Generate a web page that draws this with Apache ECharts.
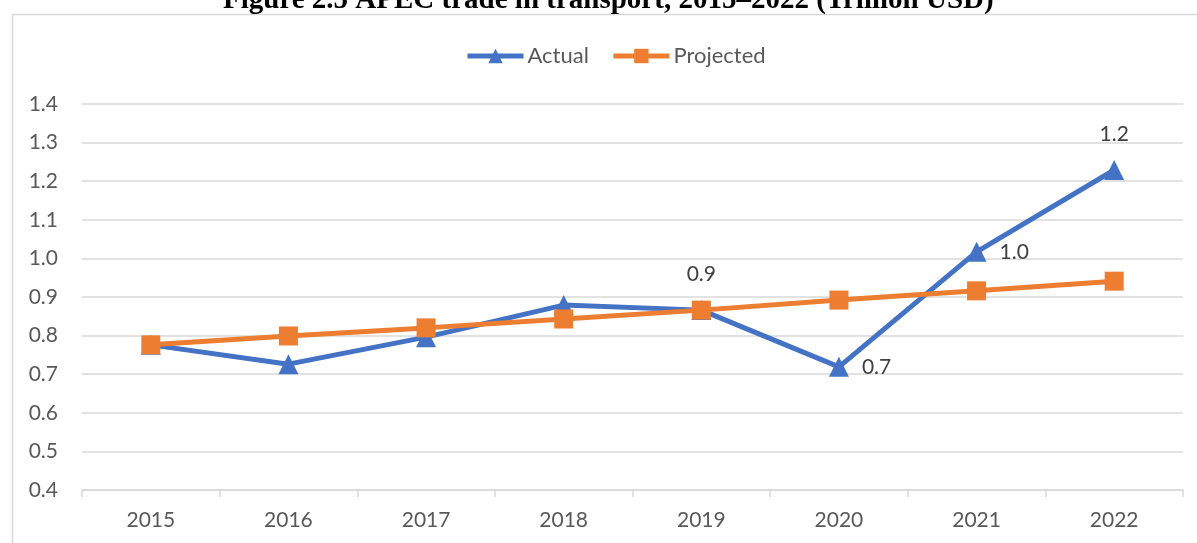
<!DOCTYPE html>
<html>
<head>
<meta charset="utf-8">
<script src="https://cdn.jsdelivr.net/npm/echarts@6/dist/echarts.min.js"></script>
<style>
html,body{margin:0;padding:0;background:#fff;}
#main{width:1197px;height:543px;}
</style>
</head>
<body>
<div id="main"></div>
<script>
var years = ['2015', '2016', '2017', '2018', '2019', '2020', '2021', '2022'];
var actual = [0.776, 0.726, 0.796, 0.879, 0.866, 0.719, 1.017, 1.229];
var projected = [0.776, 0.799, 0.820, 0.843, 0.866, 0.892, 0.916, 0.941];
// which actual points carry a label, and where
var labelPos = [null, null, null, null, 'top', 'right', 'right', 'top'];

var font = 'Lato, "Open Sans", sans-serif';
var myChart = echarts.init(document.getElementById('main'));

var actualData = [];
for (var i = 0; i < actual.length; i++) {
    var d = { value: actual[i] };
    if (labelPos[i]) {
        d.label = {
            show: true,
            position: labelPos[i],
            distance: labelPos[i] == 'top' ? 15 : 13,
            formatter: function (p) { return p.value.toFixed(1); }
        };
    }
    actualData.push(d);
}

var option = {
    backgroundColor: '#fff',
    animation: false,
    title: {
        text: 'Figure 2.5 APEC trade in transport, 2015\u20132022 (Trillion USD)',
        left: 218,
        top: -19,
        textStyle: {
            fontFamily: '"Liberation Serif", serif',
            fontWeight: 'bold',
            fontSize: 29,
            color: '#000'
        }
    },
    graphic: [{
        type: 'rect',
        shape: { x: 12.5, y: 14.5, width: 1300, height: 600 },
        style: { fill: 'none', stroke: '#d9d9d9', lineWidth: 1.5 },
        silent: true
    }],
    legend: {
        top: 40,
        left: 460,
        itemGap: 22,
        itemWidth: 56,
        itemHeight: 18,
        lineStyle: { width: 5 },
        textStyle: { fontFamily: font, fontSize: 22, color: '#595959', padding: [0, 0, 0, -1] },
        data: ['Actual', 'Projected']
    },
    grid: { left: 82, right: 14, top: 104, bottom: 53 },
    xAxis: {
        type: 'category',
        data: years,
        boundaryGap: true,
        axisLine: { lineStyle: { color: '#d9d9d9', width: 1.5 } },
        axisTick: { show: true, length: 7, lineStyle: { color: '#d9d9d9', width: 1.5 } },
        axisLabel: { fontFamily: font, fontSize: 21, color: '#595959', margin: 20 }
    },
    yAxis: {
        type: 'value',
        min: 0.4,
        max: 1.4,
        interval: 0.1,
        axisLine: { show: false },
        axisTick: { show: false },
        splitLine: { lineStyle: { color: '#d9d9d9', width: 1.5 } },
        axisLabel: {
            fontFamily: font, fontSize: 21, color: '#595959', margin: 24,
            formatter: function (v) { return v.toFixed(1); }
        }
    },
    series: [
        {
            name: 'Actual',
            type: 'line',
            data: actualData,
            symbol: 'triangle',
            symbolSize: 20,
            itemStyle: { color: '#4472c4' },
            lineStyle: { color: '#4472c4', width: 5 },
            label: { fontFamily: font, fontSize: 21, color: '#404040' },
            z: 3
        },
        {
            name: 'Projected',
            type: 'line',
            data: projected,
            symbol: 'rect',
            symbolSize: 19,
            itemStyle: { color: '#ed7d31' },
            lineStyle: { color: '#ed7d31', width: 5 },
            z: 4
        }
    ]
};
myChart.setOption(option);
</script>
</body>
</html>
